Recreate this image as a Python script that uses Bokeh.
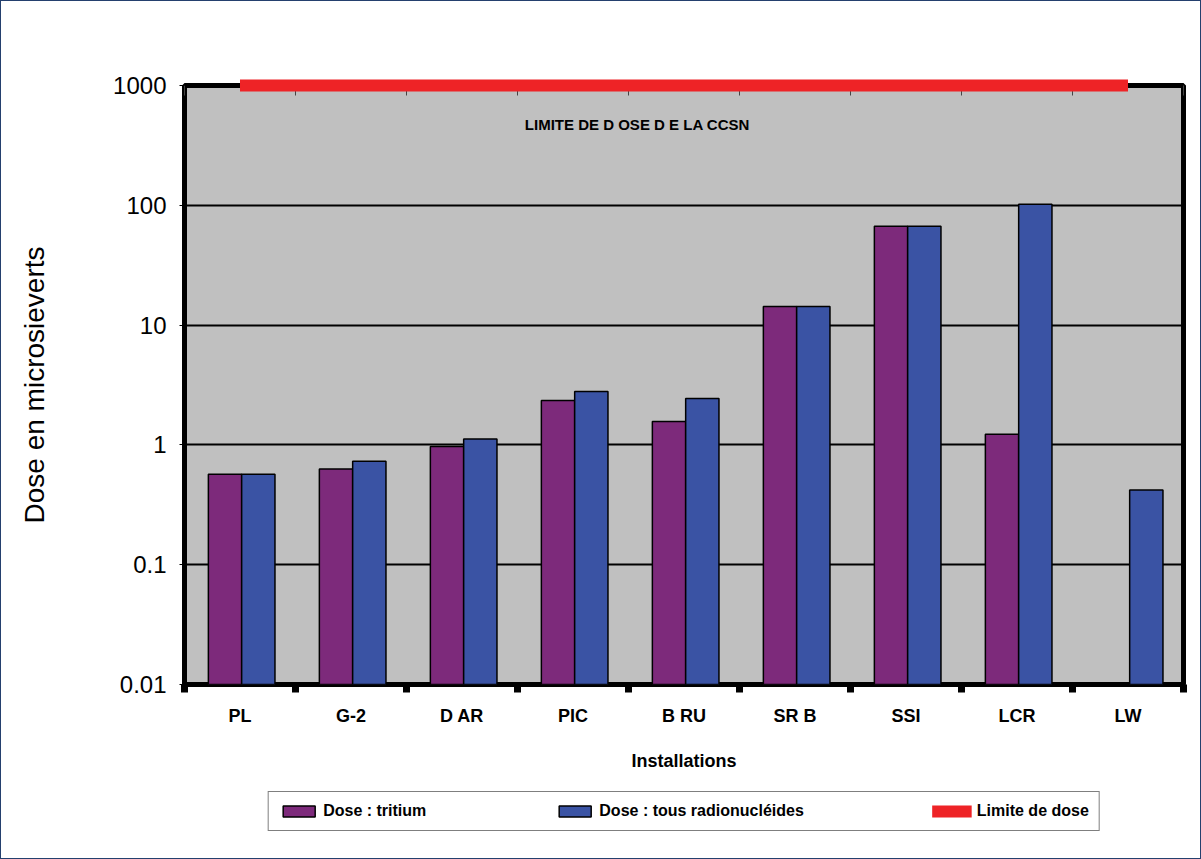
import numpy as np
from bokeh.plotting import figure
from bokeh.layouts import column
from bokeh.models import (Range1d, LinearAxis, FixedTicker, CustomJSTickFormatter, Legend,
                          LegendItem, Label, ColumnDataSource)
from bokeh.transform import dodge
from bokeh.embed import file_html
from bokeh.resources import INLINE

# Doses per installation, in microsieverts (log scale)
installations = ["PL", "G-2", "D AR", "PIC", "B RU", "SR B", "SSI", "LCR", "LW"]
dose_tritium = [0.57, 0.63, 0.97, 2.35, 1.57, 14.3, 67.0, 1.23, float("nan")]
dose_all = [0.57, 0.73, 1.12, 2.79, 2.44, 14.3, 67.0, 102.0, 0.42]
dose_limit = 1000
y_ticks = [0.01, 0.1, 1, 10, 100, 1000]
limit_title = "LIMITE DE D OSE D E LA CCSN"
series_labels = ["Dose : tritium", "Dose : tous radionucléides", "Limite de dose"]

FONT = "Liberation Sans"
PURPLE = "#7d2a7b"
BLUE = "#3a53a4"
RED = "#ee2326"
PANEL = "#c0c0c0"
FRAME = "1.5px solid #24406e"

n = len(installations)
centers = [i + 0.5 for i in range(n)]      # slot centre of each installation
edges = list(range(n + 1))                  # slot boundaries

src = ColumnDataSource(dict(
    xc=centers,
    tritium=dose_tritium,
    allnuc=dose_all,
    base=[y_ticks[0]] * n,
))

bar_style = dict(width=0.3, line_color="black", line_width=1.5)
limit_style = dict(line_color=RED, line_width=12)

# ---------------- main chart ----------------
p = figure(
    width=1201, height=779,
    x_range=Range1d(0, n),
    y_range=Range1d(y_ticks[0], y_ticks[-1]),
    y_axis_type="log", x_axis_location=None,
    toolbar_location=None, output_backend="svg",
    min_border_left=183, min_border_right=19, min_border_top=84, min_border_bottom=96,
    background_fill_color=PANEL, border_fill_color="white",
    outline_line_color="black", outline_line_width=5,
)
p.styles = {"border": FRAME, "border-bottom": "none"}

r_trit = p.vbar(x=dodge("xc", -0.135), top="tritium", bottom="base", source=src,
                fill_color=PURPLE, **bar_style)
r_all = p.vbar(x=dodge("xc", 0.165), top="allnuc", bottom="base", source=src,
               fill_color=BLUE, **bar_style)

# regulatory limit, from first to last installation
p.line(x=[centers[0], centers[-1]], y=[dose_limit, dose_limit], level="overlay", **limit_style)

p.xgrid.visible = False
p.ygrid.ticker = FixedTicker(ticks=y_ticks)
p.ygrid.grid_line_color = "black"
p.ygrid.grid_line_width = 2

ya = p.yaxis[0]
ya.ticker = FixedTicker(ticks=y_ticks)
ya.formatter = CustomJSTickFormatter(code="return tick.toString()")
ya.axis_line_color = None
ya.major_tick_in = 0
ya.major_tick_out = 5
ya.major_tick_line_color = "black"
ya.minor_tick_line_color = None
ya.major_label_text_font = FONT
ya.major_label_text_font_size = "24px"
ya.major_label_text_color = "black"
ya.major_label_standoff = 13
ya.axis_label = "Dose en microsieverts"
ya.axis_label_text_font = FONT
ya.axis_label_text_font_size = "28px"
ya.axis_label_text_font_style = "normal"
ya.axis_label_text_color = "black"
ya.axis_label_standoff = 60

no_labels = CustomJSTickFormatter(code="return ''")

# thin slot separators along the top
top_ax = LinearAxis(ticker=FixedTicker(ticks=edges), formatter=no_labels,
                    major_tick_in=10, major_tick_out=0, major_tick_line_color="#444444",
                    major_tick_line_width=1, minor_tick_line_color=None, axis_line_color=None,
                    major_label_standoff=0)
p.add_layout(top_ax, "above")

# square slot separators along the bottom
bot_ax = LinearAxis(ticker=FixedTicker(ticks=edges), formatter=no_labels,
                    major_tick_in=0, major_tick_out=8, major_tick_line_color="black",
                    major_tick_line_width=7, minor_tick_line_color=None, axis_line_color=None,
                    major_label_standoff=0)
p.add_layout(bot_ax, "below")

# installation names
cat_ax = LinearAxis(ticker=FixedTicker(ticks=centers),
                    formatter=CustomJSTickFormatter(args=dict(names=installations),
                                                    code="return names[Math.floor(tick)]"),
                    major_tick_line_color=None, minor_tick_line_color=None, axis_line_color=None,
                    major_label_text_font=FONT, major_label_text_font_size="18px",
                    major_label_text_font_style="bold", major_label_text_color="black",
                    major_label_standoff=7,
                    axis_label="Installations", axis_label_text_font=FONT,
                    axis_label_text_font_size="18px", axis_label_text_font_style="bold",
                    axis_label_text_color="black", axis_label_standoff=22)
p.add_layout(cat_ax, "below")

p.add_layout(Label(x=4.08, y=470, text=limit_title,
                   text_font=FONT, text_font_size="15px", text_font_style="bold",
                   text_align="center", text_baseline="middle", text_color="black"))

# ---------------- legend strip ----------------
leg = figure(
    width=1201, height=80,
    x_axis_location=None, y_axis_location=None,
    toolbar_location=None, output_backend="svg",
    min_border_left=183, min_border_right=19, min_border_top=0, min_border_bottom=16,
    background_fill_color="white", border_fill_color="white", outline_line_color=None,
)
leg.styles = {"border": FRAME, "border-top": "none"}
leg.grid.visible = False

# hidden stand-ins that carry the series styles for the key
key_src = ColumnDataSource(dict(x=[centers[0]], top=[dose_all[0]], bottom=[y_ticks[0]]))
k_trit = leg.vbar(x="x", top="top", bottom="bottom", source=key_src, fill_color=PURPLE,
                  visible=False, **bar_style)
k_all = leg.vbar(x="x", top="top", bottom="bottom", source=key_src, fill_color=BLUE,
                 visible=False, **bar_style)
k_lim = leg.line(x="x", y="top", source=key_src, visible=False, **limit_style)

legend = Legend(
    items=[LegendItem(label=series_labels[0], renderers=[k_trit]),
           LegendItem(label=series_labels[1], renderers=[k_all]),
           LegendItem(label=series_labels[2], renderers=[k_lim])],
    orientation="horizontal", location="center",
    border_line_color="black", border_line_width=1.5, background_fill_color="white",
    inactive_fill_alpha=0,
    label_text_font=FONT, label_text_font_size="16px", label_text_font_style="bold",
    label_text_color="black", glyph_width=40, glyph_height=14, label_standoff=5,
    padding=10, spacing=128, margin=0,
)
leg.add_layout(legend, "center")

layout = column(p, leg, spacing=0)

open("out.html", "w").write(file_html(layout, INLINE))
